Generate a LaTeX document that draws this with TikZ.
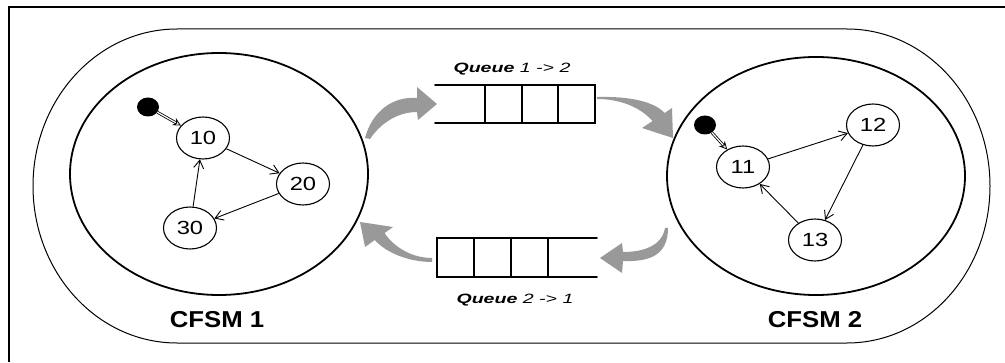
\documentclass[tikz,border=0pt]{standalone}
\usepackage{fontspec}
\setmainfont{Liberation Sans}
\usetikzlibrary{arrows.meta,shapes.geometric}

% horizontally widened lettering
\newcommand{\widetext}[2]{\scalebox{#1}[1]{#2}}

\tikzset{
  machine/.style={draw, line width=1.8pt, ellipse, inner sep=0pt},
  state/.style={draw, line width=1.1pt, ellipse, minimum width=53pt, minimum height=42pt,
                inner sep=0pt, font=\fontsize{19}{19}\selectfont},
  startdot/.style={fill=black, ellipse, minimum width=22pt, minimum height=19pt, inner sep=0pt},
  trans/.style={line width=0.9pt, -{Straight Barb[length=8pt,width=10pt]}},
  init/.style={line width=0.8pt, double distance=1.2pt, -{Stealth[open,length=8pt,width=8pt]}},
  qline/.style={line width=1.8pt, line cap=round},
  flow/.style={fill=black!40},
  cname/.style={font=\fontsize{23}{23}\selectfont\bfseries},
  qname/.style={font=\fontsize{13.5}{13.5}\selectfont\itshape},
}

\begin{document}
\begin{tikzpicture}[x=1pt, y=1pt]
  \useasboundingbox (0,0) rectangle (1005,362);

  % page frame
  \draw[line width=1.6pt] (9,0) -- (9,355) -- (1005,355);

  % system boundary
  \draw[line width=1pt] (177,333) -- (847,333)
    arc[start angle=90, end angle=-90, x radius=143pt, y radius=157pt]
    -- (177,19)
    arc[start angle=270, end angle=90, x radius=144pt, y radius=157pt] -- cycle;

  % the two machines
  \node[machine, minimum width=298pt, minimum height=242pt] (m1) at (219,188) {};
  \node[machine, minimum width=298pt, minimum height=238pt] (m2) at (816,186) {};
  \node[cname] (l1) at (217,42) {\widetext{1.12}{CFSM 1}};
  \node[cname] (l2) at (815,42) {\widetext{1.12}{CFSM 2}};

  % CFSM 1 states
  \node[startdot] (i1) at (148,255) {};
  \node[state] (s10) at (203,224) {\widetext{1.25}{10}};
  \node[state] (s20) at (303,178) {\widetext{1.25}{20}};
  \node[state] (s30) at (190,134) {\widetext{1.25}{30}};
  \draw[init] (i1) -- (s10);
  \draw[trans] (s10) -- (s20);
  \draw[trans] (s20) -- (s30);
  \draw[trans] (s30) -- (s10);

  % CFSM 2 states
  \node[startdot] (i2) at (705,237) {};
  \node[state] (s11) at (743,195) {\widetext{1.25}{11}};
  \node[state] (s12) at (873,237) {\widetext{1.25}{12}};
  \node[state] (s13) at (815,122) {\widetext{1.25}{13}};
  \draw[init] (i2) -- (s11);
  \draw[trans] (s11) -- (s12);
  \draw[trans] (s12) -- (s13);
  \draw[trans] (s13) -- (s11);

  % queue 1 -> 2 (open on the left)
  \draw[qline] (435,277) -- (595,277) -- (595,239) -- (435,239);
  \foreach \x in {485,522,558} \draw[qline] (\x,277) -- (\x,239);
  \node[qname] (q1) at (512,293) {\widetext{1.45}{\bfseries Queue \mdseries 1 -> 2}};

  % queue 2 -> 1 (open on the right)
  \draw[qline] (597,124) -- (437,124) -- (437,85) -- (597,85);
  \foreach \x in {474,511,548} \draw[qline] (\x,124) -- (\x,85);
  \node[qname] (q2) at (515,62) {\widetext{1.45}{\bfseries Queue \mdseries 2 -> 1}};

  % message flow: tapered curved arrows
  % CFSM 1 -> queue 1->2
  \fill[flow] (365,224) .. controls (372,250) and (392,266) .. (417,264)
    -- (417,275) -- (437,258) -- (418,242) -- (417,250)
    .. controls (397,250) and (380,238) .. (370,223) -- cycle;
  % queue 1->2 -> CFSM 2
  \fill[flow] (597,265) .. controls (630,266) and (655,260) .. (664.5,249)
    -- (672,254) -- (673,224) -- (642,234) -- (652.5,241)
    .. controls (640,255) and (620,263) .. (597,263) -- cycle;
  % CFSM 2 -> queue 2->1
  \fill[flow] (668,134) .. controls (668,107) and (650,100) .. (623,101)
    -- (622,89) -- (600,104) -- (622,119) -- (623,110)
    .. controls (645,110) and (662,117) .. (665,134) -- cycle;
  % queue 2->1 -> CFSM 1
  \fill[flow] (432,104) .. controls (410,104) and (392,117) .. (384.6,129)
    -- (393,135) -- (360,140) -- (365,115) -- (374.8,122)
    .. controls (385,110) and (408,100) .. (432,100) -- cycle;
\end{tikzpicture}
\end{document}
